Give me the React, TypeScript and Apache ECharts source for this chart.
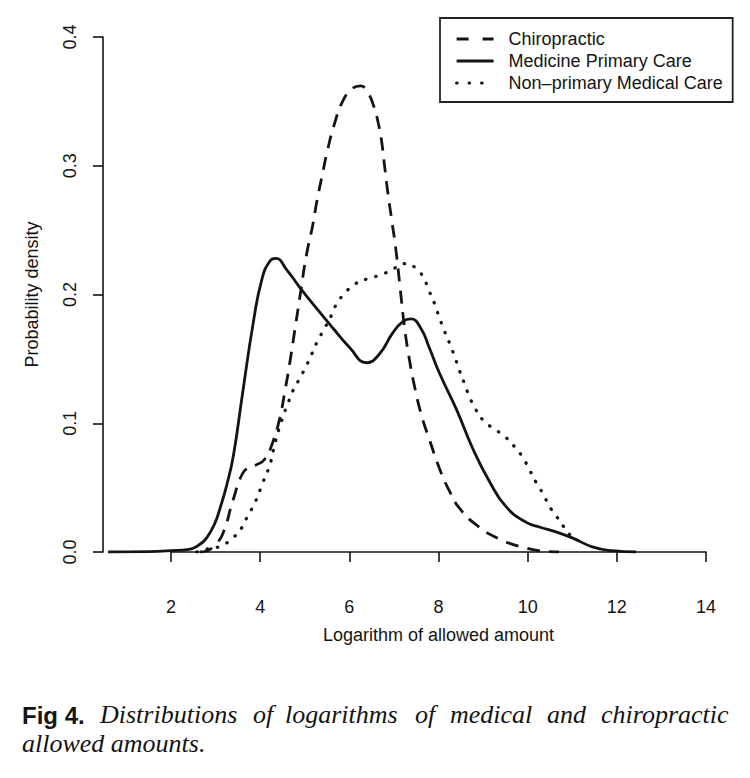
import React, { useEffect, useRef } from "react";
import * as echarts from "echarts";

// ---- data ----
const seriesNames = ["Chiropractic", "Medicine Primary Care", "Non\u2013primary Medical Care"];

const chiroX = [2.65, 2.81, 3.0, 3.16, 3.39, 3.59, 3.75, 3.93, 4.1, 4.28, 4.44, 4.55, 4.66, 4.78, 4.89, 5.04, 5.18, 5.27, 5.4, 5.51, 5.67, 5.85, 6.07, 6.25, 6.41, 6.55, 6.65, 6.72, 6.79, 6.86, 6.95, 7.04, 7.14, 7.24, 7.35, 7.46, 7.62, 7.8, 8.02, 8.25, 8.47, 8.85, 9.37, 9.97, 10.4, 10.7];
const chiroY = [0.0, 0.001, 0.006, 0.014, 0.04, 0.06, 0.066, 0.068, 0.072, 0.085, 0.104, 0.124, 0.146, 0.173, 0.198, 0.231, 0.254, 0.272, 0.294, 0.312, 0.333, 0.35, 0.36, 0.362, 0.357, 0.346, 0.333, 0.32, 0.3, 0.28, 0.258, 0.236, 0.205, 0.174, 0.149, 0.129, 0.106, 0.087, 0.065, 0.047, 0.034, 0.021, 0.01, 0.003, 0.0005, 0.0];

const medX = [0.59, 1.5, 2.0, 2.4, 2.65, 2.8, 2.98, 3.1, 3.25, 3.4, 3.6, 3.84, 4.04, 4.22, 4.35, 4.6, 4.9, 5.27, 5.63, 6.0, 6.39, 6.68, 6.97, 7.2, 7.38, 7.6, 7.8, 8.02, 8.4, 8.76, 9.14, 9.52, 9.97, 10.3, 10.6, 11.0, 11.45, 11.9, 12.43];
const medY = [0.0, 0.0003, 0.001, 0.002, 0.006, 0.011, 0.022, 0.034, 0.052, 0.075, 0.122, 0.177, 0.212, 0.226, 0.228, 0.219, 0.205, 0.189, 0.174, 0.159, 0.147, 0.154, 0.17, 0.179, 0.181, 0.174, 0.158, 0.139, 0.111, 0.081, 0.055, 0.035, 0.023, 0.019, 0.016, 0.011, 0.004, 0.001, 0.0];

const nonX = [2.58, 2.76, 2.94, 3.14, 3.39, 3.59, 3.72, 3.88, 4.06, 4.22, 4.33, 4.49, 4.62, 4.73, 4.89, 5.04, 5.16, 5.29, 5.45, 5.6, 5.72, 5.9, 6.12, 6.39, 6.68, 6.95, 7.22, 7.51, 7.69, 7.8, 7.91, 8.02, 8.13, 8.25, 8.36, 8.47, 8.58, 8.69, 8.83, 9.01, 9.23, 9.48, 9.7, 9.88, 10.04, 10.19, 10.35, 10.48, 10.64, 10.8, 10.98, 11.09];
const nonY = [0.0, 0.002, 0.003, 0.005, 0.011, 0.019, 0.028, 0.038, 0.054, 0.068, 0.084, 0.103, 0.115, 0.125, 0.135, 0.145, 0.154, 0.164, 0.174, 0.184, 0.193, 0.201, 0.208, 0.212, 0.215, 0.219, 0.224, 0.22, 0.211, 0.202, 0.193, 0.182, 0.172, 0.162, 0.152, 0.141, 0.131, 0.121, 0.111, 0.102, 0.096, 0.09, 0.082, 0.074, 0.064, 0.054, 0.045, 0.036, 0.028, 0.02, 0.012, 0.008];

const xTickMin = 2;
const xTickMax = 14;
const xTickStep = 2;
const yTickMax = 0.4;
const yTickStep = 0.1;

const xTitle = "Logarithm of allowed amount";
const yTitle = "Probability density";
const captionLabel = "Fig 4.";
const captionLine1 = ["Distributions", "of", "logarithms", "of", "medical", "and", "chiropractic"];
const captionLine2 = "allowed amounts.";

const pairs = (xs: number[], ys: number[]) => xs.map((x, i) => [x, ys[i]]);

const SANS = "'Liberation Sans', Arial, Helvetica, sans-serif";
const SERIF = "'Liberation Serif', 'Times New Roman', serif";
const INK = "#141414";

export default function App() {
  const ref = useRef<HTMLDivElement>(null);

  useEffect(() => {
    if (!ref.current) return;
    const chart = echarts.init(ref.current, undefined, { renderer: "svg" });

    const W = 750;
    const axisLeftPx = 103;
    const tick2Px = 171;
    const tick14Px = 706;
    const pxPerUnit = (tick14Px - tick2Px) / (xTickMax - xTickMin);
    const dataXMin = xTickMin - (tick2Px - axisLeftPx) / pxPerUnit;

    const wordLeft = [100, 253, 285, 415, 450, 547, 601];

    const dashes: any[] = [[13, 9], "solid", [0.5, 10]];
    const legendDashes: any[] = [[12, 14], "solid", [0.5, 12]];
    const widths = [2.8, 2.8, 3.2];
    const caps: any[] = ["butt", "butt", "round"];

    const line = (i: number, data: number[][]) => ({
      type: "line",
      name: seriesNames[i],
      data,
      xAxisIndex: 0,
      yAxisIndex: 0,
      symbol: "none",
      showSymbol: false,
      smooth: 0.5,
      lineStyle: { color: INK, width: widths[i], type: dashes[i], cap: caps[i] },
      itemStyle: { color: INK },
      emphasis: { disabled: true },
    });

    chart.setOption({
      animation: false,
      backgroundColor: "#ffffff",
      textStyle: { fontFamily: SANS, color: INK },
      grid: [
        { left: axisLeftPx, right: W - tick14Px, top: 37, bottom: 226, containLabel: false },
        { left: tick2Px, right: W - tick14Px, top: 37, bottom: 226, containLabel: false },
      ],
      xAxis: [
        { type: "value", gridIndex: 0, min: dataXMin, max: xTickMax, show: false },
        {
          type: "value",
          gridIndex: 1,
          min: xTickMin,
          max: xTickMax,
          interval: xTickStep,
          position: "bottom",
          offset: 22,
          axisLine: { show: true, lineStyle: { color: INK, width: 1.6 } },
          axisTick: { show: true, length: 10, lineStyle: { color: INK, width: 1.6 } },
          axisLabel: { fontSize: 18, color: INK, margin: 24, fontFamily: SANS },
          splitLine: { show: false },
          name: xTitle,
          nameLocation: "middle",
          nameGap: 52,
          nameTextStyle: { fontSize: 18, color: INK, fontFamily: SANS },
        },
      ],
      yAxis: [
        {
          type: "value",
          gridIndex: 0,
          min: 0,
          max: yTickMax,
          interval: yTickStep,
          axisLine: { show: true, lineStyle: { color: INK, width: 1.6 } },
          axisTick: { show: true, length: 10, lineStyle: { color: INK, width: 1.6 } },
          axisLabel: {
            rotate: 90,
            fontSize: 18,
            color: INK,
            margin: 24,
            fontFamily: SANS,
            formatter: (v: number) => v.toFixed(1),
          },
          splitLine: { show: false },
          name: yTitle,
          nameLocation: "middle",
          nameRotate: 90,
          nameGap: 62,
          nameTextStyle: { fontSize: 18, color: INK, fontFamily: SANS },
        },
        { type: "value", gridIndex: 1, min: 0, max: yTickMax, show: false },
      ],
      legend: {
        show: true,
        orient: "vertical",
        left: 440,
        top: 18,
        padding: [12, 10, 10, 15],
        itemWidth: 37,
        itemHeight: 14,
        itemGap: 4,
        borderColor: "#222",
        borderWidth: 1.8,
        borderRadius: 0,
        selectedMode: false,
        itemStyle: { opacity: 0 },
        data: seriesNames.map((n, i) => ({
          name: n,
          itemStyle: { opacity: 0 },
          lineStyle: { color: INK, width: widths[i], type: legendDashes[i], cap: caps[i] },
        })),
        textStyle: { fontSize: 18, color: INK, fontFamily: SANS, padding: [0, 0, 0, 10] },
      },
      series: [
        line(0, pairs(chiroX, chiroY)),
        line(1, pairs(medX, medY)),
        line(2, pairs(nonX, nonY)),
      ],
      graphic: [
        {
          type: "text",
          left: 22,
          top: 703,
          style: { text: captionLabel, font: `bold 24px ${SANS}`, fill: INK },
        },
        ...captionLine1.map((w, i) => ({
          type: "text",
          left: wordLeft[i],
          top: 701,
          style: { text: w, font: `italic 26px ${SERIF}`, fill: INK },
        })),
        {
          type: "text",
          left: 22,
          top: 730,
          style: { text: captionLine2, font: `italic 26px ${SERIF}`, fill: INK },
        },
      ],
    });

    return () => chart.dispose();
  }, []);

  return (
    <div
      ref={ref}
      style={{ position: "fixed", left: 0, top: 0, width: 750, height: 778, background: "#fff" }}
    />
  );
}
